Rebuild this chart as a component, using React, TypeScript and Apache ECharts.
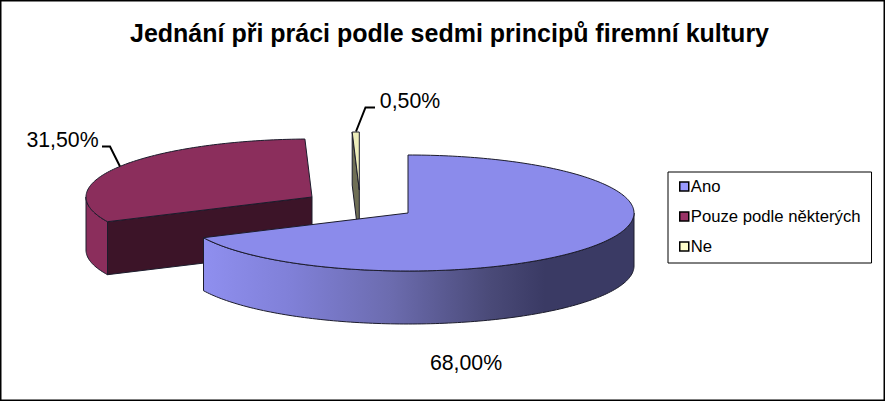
import React, { useEffect, useRef } from "react";
import * as echarts from "echarts";

const titleText = "Jednání při práci podle sedmi principů firemní kultury";
const categories = ["Ano", "Pouze podle některých", "Ne"];
const shares = [68, 31.5, 0.5];

const swatches = ["#9999FF", "#993366", "#FFFFCC"];
const topColors = ["#8B8BEB", "#8B2E5C", "#EDEDBB"];
const sideColors = ["#8B8BEB", "#8B2E5C", "#6E6E55"];
const cutColors = ["#3A3A64", "#3C1428", "#6E6E55"];
const apex = [
  [408, 213],
  [312, 197],
  [359.3, 190],
];
const labelBoxes = [
  { x: 466, y: 363, line: null },
  { x: 62.5, y: 140, line: [[102, 146.5], [110, 146.5], [120, 166.5]] },
  { x: 410, y: 101, line: [[375, 107.5], [365.5, 107.5], [356, 131.5]] },
];
const RX = 226;
const RY = 58;
const DEPTH = 53;
const EDGE = "#1c1c2c";

const rim = (c: number[], t: number, d = 0) => [c[0] + RX * Math.sin(t), c[1] - RY * Math.cos(t) + d];

const arcPts = (c: number[], a: number, b: number, d = 0) => {
  const n = Math.max(2, Math.ceil(Math.abs(b - a) / 0.02));
  const out: number[][] = [];
  for (let i = 0; i <= n; i++) out.push(rim(c, a + ((b - a) * i) / n, d));
  return out;
};

const startFrac = (i: number) => shares.slice(0, i).reduce((s, v) => s + v, 0) / shares.reduce((s, v) => s + v, 0);

const makeRender = (i: number) => () => {
  const c = apex[i];
  const a = startFrac(i) * Math.PI * 2;
  const b = startFrac(i + 1) * Math.PI * 2;
  const children: any[] = [];
  const stroke = { stroke: EDGE, lineWidth: 1, lineJoin: "round" };

  // cut faces that turn toward the viewer
  const faces: number[][][] = [];
  if (Math.sin(a) < -1e-9) {
    const p = rim(c, a);
    faces.push([c, p, [p[0], p[1] + DEPTH], [c[0], c[1] + DEPTH]]);
  }
  if (Math.sin(b) > 1e-9) {
    const p = rim(c, b);
    faces.push([c, p, [p[0], p[1] + DEPTH], [c[0], c[1] + DEPTH]]);
  }
  faces.forEach((points) =>
    children.push({ type: "polygon", shape: { points }, style: { fill: cutColors[i], ...stroke } })
  );

  // outer wall: front half of the rim only
  const wa = Math.max(a, Math.PI / 2);
  const wb = Math.min(b, (Math.PI * 3) / 2);
  if (wb > wa) {
    const upper = arcPts(c, wa, wb);
    const lower = arcPts(c, wb, wa, DEPTH);
    const xs = [...upper, ...lower].map((p) => p[0]);
    const x0 = Math.min(...xs);
    const x1 = Math.max(...xs);
    const at = (x: number) => (x - x0) / (x1 - x0);
    const fill =
      i === 0
        ? new echarts.graphic.LinearGradient(0, 0, 1, 0, [
            { offset: 0, color: "#8F8FEF" },
            { offset: at(290), color: "#8080D8" },
            { offset: at(390), color: "#6C6CAF" },
            { offset: at(490), color: "#4A4A78" },
            { offset: at(545), color: "#3A3A64" },
            { offset: 1, color: "#3A3A64" },
          ])
        : sideColors[i];
    children.push({ type: "polygon", shape: { points: [...upper, ...lower] }, style: { fill, ...stroke } });
  }

  // top face
  children.push({
    type: "polygon",
    shape: { points: [c, ...arcPts(c, a, b)] },
    style: { fill: topColors[i], ...stroke },
  });

  const lb = labelBoxes[i];
  if (lb.line) {
    children.push({
      type: "polyline",
      shape: { points: lb.line },
      style: { fill: "none", stroke: "#000", lineWidth: 2 },
    });
  }
  children.push({
    type: "text",
    x: lb.x,
    y: lb.y,
    style: {
      text: shares[i].toFixed(2).replace(".", ",") + "%",
      font: '21.3px "Liberation Sans", Arial, sans-serif',
      fill: "#000",
      align: "center",
      verticalAlign: "middle",
    },
  });
  return { type: "group", children };
};

// Draw order: back slices first, the front slice last.
const drawOrder = [1, 2, 0];

export default function App() {
  const ref = useRef<HTMLDivElement>(null);
  useEffect(() => {
    document.body.style.margin = "0";
    const chart = echarts.init(ref.current!, undefined, { renderer: "svg" });
    chart.setOption({
      animation: false,
      backgroundColor: "#fff",
      title: {
        text: titleText,
        left: 130,
        top: 20,
        padding: 0,
        textStyle: { fontFamily: '"Liberation Sans", Arial, sans-serif', fontWeight: "bold", fontSize: 25, color: "#000" },
      },
      legend: {
        orient: "vertical",
        left: 668,
        top: 172,
        padding: [6, 11, 8, 11],
        itemGap: 13,
        itemWidth: 9,
        itemHeight: 9,
        icon: "rect",
        borderColor: "#000",
        borderWidth: 1,
        data: categories.map((name, i) => ({
          name,
          itemStyle: { color: swatches[i], borderColor: "#000", borderWidth: 1.5 },
        })),
        textStyle: { fontFamily: '"Liberation Sans", Arial, sans-serif', fontSize: 16.7, color: "#000", padding: [0, 0, 0, -3], height: 17, lineHeight: 17 },
      },
      graphic: [
        {
          type: "rect",
          shape: { x: 0.75, y: 0.75, width: 883.5, height: 399.5 },
          style: { fill: "none", stroke: "#000", lineWidth: 1.5 },
          silent: true,
          z: 100,
        },
      ],
      series: drawOrder.map((i, k) => ({
        type: "custom",
        name: categories[i],
        coordinateSystem: "none",
        z: 2 + k,
        color: swatches[i],
        silent: true,
        data: [shares[i]],
        renderItem: makeRender(i),
      })),
    });
    return () => chart.dispose();
  }, []);
  return <div ref={ref} style={{ width: 885, height: 401 }} />;
}
